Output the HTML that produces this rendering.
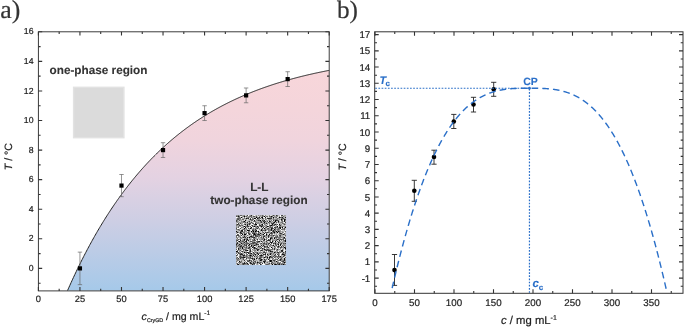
<!DOCTYPE html><html><head><meta charset="utf-8"><style>html,body{margin:0;padding:0;background:#fff}svg{display:block;will-change:transform}text{font-family:"Liberation Sans",Arial,sans-serif;text-rendering:geometricPrecision}</style></head><body>
<svg width="685" height="329" viewBox="0 0 685 329">
<defs>
<linearGradient id="g" gradientUnits="userSpaceOnUse" x1="0" y1="70" x2="0" y2="290">
<stop offset="0" stop-color="rgb(248,214,218)"/>
<stop offset="0.18" stop-color="rgb(244,213,219)"/>
<stop offset="0.32" stop-color="rgb(240,212,221)"/>
<stop offset="0.486" stop-color="rgb(228,210,226)"/>
<stop offset="0.695" stop-color="rgb(204,206,228)"/>
<stop offset="1" stop-color="rgb(166,201,233)"/>
</linearGradient>
<filter id="noise" x="-4%" y="-4%" width="108%" height="108%" color-interpolation-filters="sRGB">
<feTurbulence type="fractalNoise" baseFrequency="1.7" numOctaves="1" seed="7" result="t"/>
<feColorMatrix in="t" type="matrix" values="2.6 0 0 0 -0.76  2.6 0 0 0 -0.76  2.6 0 0 0 -0.76  0 0 0 0 1" result="c"/>
<feComposite in="c" in2="SourceGraphic" operator="in" result="cc"/>
<feGaussianBlur in="cc" stdDeviation="0.45"/>
</filter>
</defs>
<rect width="685" height="329" fill="#fff"/>
<path d="M67.53,290.58 L67.55,290.52 L68.28,288.87 L69.01,287.23 L69.74,285.60 L70.47,283.98 L71.20,282.38 L71.93,280.78 L72.65,279.20 L73.38,277.62 L74.11,276.06 L74.84,274.51 L75.57,272.97 L76.30,271.44 L77.03,269.92 L77.76,268.41 L78.49,266.91 L79.21,265.42 L79.94,263.94 L80.67,262.47 L81.40,261.01 L82.13,259.56 L82.86,258.12 L83.59,256.70 L84.32,255.28 L85.04,253.87 L85.77,252.47 L86.50,251.08 L87.23,249.70 L87.96,248.33 L88.69,246.97 L89.42,245.61 L90.15,244.27 L90.88,242.94 L91.60,241.61 L92.33,240.30 L93.06,238.99 L93.79,237.69 L94.52,236.40 L95.25,235.12 L95.98,233.85 L96.71,232.59 L97.43,231.34 L98.16,230.09 L98.89,228.86 L99.62,227.63 L100.35,226.41 L101.08,225.20 L101.81,224.00 L102.54,222.80 L103.27,221.62 L103.99,220.44 L104.72,219.27 L105.45,218.11 L106.18,216.95 L106.91,215.81 L107.64,214.67 L108.37,213.54 L109.10,212.41 L109.82,211.30 L110.55,210.19 L111.28,209.09 L112.01,208.00 L112.74,206.92 L113.47,205.84 L114.20,204.77 L114.93,203.71 L115.66,202.65 L116.38,201.60 L117.11,200.56 L117.84,199.53 L118.57,198.50 L119.30,197.49 L120.03,196.47 L120.76,195.47 L121.49,194.47 L122.21,193.48 L122.94,192.49 L123.67,191.51 L124.40,190.54 L125.13,189.58 L125.86,188.62 L126.59,187.67 L127.32,186.72 L128.05,185.79 L128.77,184.85 L129.50,183.93 L130.23,183.01 L130.96,182.10 L131.69,181.19 L132.42,180.29 L133.15,179.40 L133.88,178.51 L134.60,177.63 L135.33,176.75 L136.06,175.88 L136.79,175.02 L137.52,174.16 L138.25,173.31 L138.98,172.46 L139.71,171.62 L140.44,170.78 L141.16,169.96 L141.89,169.13 L142.62,168.32 L143.35,167.50 L144.08,166.70 L144.81,165.90 L145.54,165.10 L146.27,164.31 L146.99,163.53 L147.72,162.75 L148.45,161.97 L149.18,161.21 L149.91,160.44 L150.64,159.68 L151.37,158.93 L152.10,158.18 L152.83,157.44 L153.55,156.71 L154.28,155.97 L155.01,155.25 L155.74,154.52 L156.47,153.81 L157.20,153.09 L157.93,152.39 L158.66,151.68 L159.38,150.99 L160.11,150.29 L160.84,149.61 L161.57,148.92 L162.30,148.24 L163.03,147.57 L163.76,146.90 L164.49,146.24 L165.22,145.58 L165.94,144.92 L166.67,144.27 L167.40,143.62 L168.13,142.98 L168.86,142.34 L169.59,141.71 L170.32,141.08 L171.05,140.45 L171.77,139.83 L172.50,139.22 L173.23,138.61 L173.96,138.00 L174.69,137.39 L175.42,136.79 L176.15,136.20 L176.88,135.61 L177.61,135.02 L178.33,134.44 L179.06,133.86 L179.79,133.28 L180.52,132.71 L181.25,132.14 L181.98,131.58 L182.71,131.02 L183.44,130.47 L184.16,129.91 L184.89,129.37 L185.62,128.82 L186.35,128.28 L187.08,127.74 L187.81,127.21 L188.54,126.68 L189.27,126.15 L189.99,125.63 L190.72,125.11 L191.45,124.60 L192.18,124.09 L192.91,123.58 L193.64,123.07 L194.37,122.57 L195.10,122.08 L195.83,121.58 L196.55,121.09 L197.28,120.60 L198.01,120.12 L198.74,119.64 L199.47,119.16 L200.20,118.69 L200.93,118.21 L201.66,117.75 L202.38,117.28 L203.11,116.82 L203.84,116.36 L204.57,115.91 L205.30,115.46 L206.03,115.01 L206.76,114.56 L207.49,114.12 L208.22,113.68 L208.94,113.24 L209.67,112.81 L210.40,112.38 L211.13,111.95 L211.86,111.53 L212.59,111.10 L213.32,110.69 L214.05,110.27 L214.77,109.86 L215.50,109.45 L216.23,109.04 L216.96,108.63 L217.69,108.23 L218.42,107.83 L219.15,107.44 L219.88,107.04 L220.61,106.65 L221.33,106.26 L222.06,105.88 L222.79,105.49 L223.52,105.11 L224.25,104.74 L224.98,104.36 L225.71,103.99 L226.44,103.62 L227.16,103.25 L227.89,102.89 L228.62,102.52 L229.35,102.16 L230.08,101.81 L230.81,101.45 L231.54,101.10 L232.27,100.75 L233.00,100.40 L233.72,100.05 L234.45,99.71 L235.18,99.37 L235.91,99.03 L236.64,98.70 L237.37,98.36 L238.10,98.03 L238.83,97.70 L239.55,97.38 L240.28,97.05 L241.01,96.73 L241.74,96.41 L242.47,96.09 L243.20,95.77 L243.93,95.46 L244.66,95.15 L245.39,94.84 L246.11,94.53 L246.84,94.23 L247.57,93.92 L248.30,93.62 L249.03,93.33 L249.76,93.03 L250.49,92.73 L251.22,92.44 L251.94,92.15 L252.67,91.86 L253.40,91.57 L254.13,91.29 L254.86,91.01 L255.59,90.73 L256.32,90.45 L257.05,90.17 L257.78,89.90 L258.50,89.62 L259.23,89.35 L259.96,89.08 L260.69,88.81 L261.42,88.55 L262.15,88.28 L262.88,88.02 L263.61,87.76 L264.33,87.50 L265.06,87.25 L265.79,86.99 L266.52,86.74 L267.25,86.49 L267.98,86.24 L268.71,85.99 L269.44,85.74 L270.17,85.50 L270.89,85.25 L271.62,85.01 L272.35,84.77 L273.08,84.53 L273.81,84.30 L274.54,84.06 L275.27,83.83 L276.00,83.60 L276.72,83.37 L277.45,83.14 L278.18,82.91 L278.91,82.69 L279.64,82.46 L280.37,82.24 L281.10,82.02 L281.83,81.80 L282.56,81.58 L283.28,81.37 L284.01,81.15 L284.74,80.94 L285.47,80.73 L286.20,80.52 L286.93,80.31 L287.66,80.10 L288.39,79.90 L289.11,79.69 L289.84,79.49 L290.57,79.29 L291.30,79.09 L292.03,78.89 L292.76,78.69 L293.49,78.49 L294.22,78.30 L294.95,78.11 L295.67,77.91 L296.40,77.72 L297.13,77.53 L297.86,77.34 L298.59,77.16 L299.32,76.97 L300.05,76.79 L300.78,76.60 L301.50,76.42 L302.23,76.24 L302.96,76.06 L303.69,75.88 L304.42,75.71 L305.15,75.53 L305.88,75.36 L306.61,75.18 L307.34,75.01 L308.06,74.84 L308.79,74.67 L309.52,74.50 L310.25,74.33 L310.98,74.17 L311.71,74.00 L312.44,73.84 L313.17,73.68 L313.89,73.51 L314.62,73.35 L315.35,73.19 L316.08,73.03 L316.81,72.88 L317.54,72.72 L318.27,72.57 L319.00,72.41 L319.73,72.26 L320.45,72.11 L321.18,71.96 L321.91,71.81 L322.64,71.66 L323.37,71.51 L324.10,71.36 L324.83,71.22 L325.56,71.07 L326.28,70.93 L327.01,70.78 L327.74,70.64 L328.47,70.50 L329.20,70.36 L329.20,290.90 Z" fill="url(#g)"/>
<rect x="72.9" y="86.6" width="51.7" height="51.8" fill="rgb(226,226,226)"/>
<rect x="74.2" y="88" width="48.7" height="49" fill="rgb(219,219,219)"/>
<rect x="236" y="215" width="50" height="50" filter="url(#noise)"/>
<path d="M67.53,290.58 L67.55,290.52 L68.28,288.87 L69.01,287.23 L69.74,285.60 L70.47,283.98 L71.20,282.38 L71.93,280.78 L72.65,279.20 L73.38,277.62 L74.11,276.06 L74.84,274.51 L75.57,272.97 L76.30,271.44 L77.03,269.92 L77.76,268.41 L78.49,266.91 L79.21,265.42 L79.94,263.94 L80.67,262.47 L81.40,261.01 L82.13,259.56 L82.86,258.12 L83.59,256.70 L84.32,255.28 L85.04,253.87 L85.77,252.47 L86.50,251.08 L87.23,249.70 L87.96,248.33 L88.69,246.97 L89.42,245.61 L90.15,244.27 L90.88,242.94 L91.60,241.61 L92.33,240.30 L93.06,238.99 L93.79,237.69 L94.52,236.40 L95.25,235.12 L95.98,233.85 L96.71,232.59 L97.43,231.34 L98.16,230.09 L98.89,228.86 L99.62,227.63 L100.35,226.41 L101.08,225.20 L101.81,224.00 L102.54,222.80 L103.27,221.62 L103.99,220.44 L104.72,219.27 L105.45,218.11 L106.18,216.95 L106.91,215.81 L107.64,214.67 L108.37,213.54 L109.10,212.41 L109.82,211.30 L110.55,210.19 L111.28,209.09 L112.01,208.00 L112.74,206.92 L113.47,205.84 L114.20,204.77 L114.93,203.71 L115.66,202.65 L116.38,201.60 L117.11,200.56 L117.84,199.53 L118.57,198.50 L119.30,197.49 L120.03,196.47 L120.76,195.47 L121.49,194.47 L122.21,193.48 L122.94,192.49 L123.67,191.51 L124.40,190.54 L125.13,189.58 L125.86,188.62 L126.59,187.67 L127.32,186.72 L128.05,185.79 L128.77,184.85 L129.50,183.93 L130.23,183.01 L130.96,182.10 L131.69,181.19 L132.42,180.29 L133.15,179.40 L133.88,178.51 L134.60,177.63 L135.33,176.75 L136.06,175.88 L136.79,175.02 L137.52,174.16 L138.25,173.31 L138.98,172.46 L139.71,171.62 L140.44,170.78 L141.16,169.96 L141.89,169.13 L142.62,168.32 L143.35,167.50 L144.08,166.70 L144.81,165.90 L145.54,165.10 L146.27,164.31 L146.99,163.53 L147.72,162.75 L148.45,161.97 L149.18,161.21 L149.91,160.44 L150.64,159.68 L151.37,158.93 L152.10,158.18 L152.83,157.44 L153.55,156.71 L154.28,155.97 L155.01,155.25 L155.74,154.52 L156.47,153.81 L157.20,153.09 L157.93,152.39 L158.66,151.68 L159.38,150.99 L160.11,150.29 L160.84,149.61 L161.57,148.92 L162.30,148.24 L163.03,147.57 L163.76,146.90 L164.49,146.24 L165.22,145.58 L165.94,144.92 L166.67,144.27 L167.40,143.62 L168.13,142.98 L168.86,142.34 L169.59,141.71 L170.32,141.08 L171.05,140.45 L171.77,139.83 L172.50,139.22 L173.23,138.61 L173.96,138.00 L174.69,137.39 L175.42,136.79 L176.15,136.20 L176.88,135.61 L177.61,135.02 L178.33,134.44 L179.06,133.86 L179.79,133.28 L180.52,132.71 L181.25,132.14 L181.98,131.58 L182.71,131.02 L183.44,130.47 L184.16,129.91 L184.89,129.37 L185.62,128.82 L186.35,128.28 L187.08,127.74 L187.81,127.21 L188.54,126.68 L189.27,126.15 L189.99,125.63 L190.72,125.11 L191.45,124.60 L192.18,124.09 L192.91,123.58 L193.64,123.07 L194.37,122.57 L195.10,122.08 L195.83,121.58 L196.55,121.09 L197.28,120.60 L198.01,120.12 L198.74,119.64 L199.47,119.16 L200.20,118.69 L200.93,118.21 L201.66,117.75 L202.38,117.28 L203.11,116.82 L203.84,116.36 L204.57,115.91 L205.30,115.46 L206.03,115.01 L206.76,114.56 L207.49,114.12 L208.22,113.68 L208.94,113.24 L209.67,112.81 L210.40,112.38 L211.13,111.95 L211.86,111.53 L212.59,111.10 L213.32,110.69 L214.05,110.27 L214.77,109.86 L215.50,109.45 L216.23,109.04 L216.96,108.63 L217.69,108.23 L218.42,107.83 L219.15,107.44 L219.88,107.04 L220.61,106.65 L221.33,106.26 L222.06,105.88 L222.79,105.49 L223.52,105.11 L224.25,104.74 L224.98,104.36 L225.71,103.99 L226.44,103.62 L227.16,103.25 L227.89,102.89 L228.62,102.52 L229.35,102.16 L230.08,101.81 L230.81,101.45 L231.54,101.10 L232.27,100.75 L233.00,100.40 L233.72,100.05 L234.45,99.71 L235.18,99.37 L235.91,99.03 L236.64,98.70 L237.37,98.36 L238.10,98.03 L238.83,97.70 L239.55,97.38 L240.28,97.05 L241.01,96.73 L241.74,96.41 L242.47,96.09 L243.20,95.77 L243.93,95.46 L244.66,95.15 L245.39,94.84 L246.11,94.53 L246.84,94.23 L247.57,93.92 L248.30,93.62 L249.03,93.33 L249.76,93.03 L250.49,92.73 L251.22,92.44 L251.94,92.15 L252.67,91.86 L253.40,91.57 L254.13,91.29 L254.86,91.01 L255.59,90.73 L256.32,90.45 L257.05,90.17 L257.78,89.90 L258.50,89.62 L259.23,89.35 L259.96,89.08 L260.69,88.81 L261.42,88.55 L262.15,88.28 L262.88,88.02 L263.61,87.76 L264.33,87.50 L265.06,87.25 L265.79,86.99 L266.52,86.74 L267.25,86.49 L267.98,86.24 L268.71,85.99 L269.44,85.74 L270.17,85.50 L270.89,85.25 L271.62,85.01 L272.35,84.77 L273.08,84.53 L273.81,84.30 L274.54,84.06 L275.27,83.83 L276.00,83.60 L276.72,83.37 L277.45,83.14 L278.18,82.91 L278.91,82.69 L279.64,82.46 L280.37,82.24 L281.10,82.02 L281.83,81.80 L282.56,81.58 L283.28,81.37 L284.01,81.15 L284.74,80.94 L285.47,80.73 L286.20,80.52 L286.93,80.31 L287.66,80.10 L288.39,79.90 L289.11,79.69 L289.84,79.49 L290.57,79.29 L291.30,79.09 L292.03,78.89 L292.76,78.69 L293.49,78.49 L294.22,78.30 L294.95,78.11 L295.67,77.91 L296.40,77.72 L297.13,77.53 L297.86,77.34 L298.59,77.16 L299.32,76.97 L300.05,76.79 L300.78,76.60 L301.50,76.42 L302.23,76.24 L302.96,76.06 L303.69,75.88 L304.42,75.71 L305.15,75.53 L305.88,75.36 L306.61,75.18 L307.34,75.01 L308.06,74.84 L308.79,74.67 L309.52,74.50 L310.25,74.33 L310.98,74.17 L311.71,74.00 L312.44,73.84 L313.17,73.68 L313.89,73.51 L314.62,73.35 L315.35,73.19 L316.08,73.03 L316.81,72.88 L317.54,72.72 L318.27,72.57 L319.00,72.41 L319.73,72.26 L320.45,72.11 L321.18,71.96 L321.91,71.81 L322.64,71.66 L323.37,71.51 L324.10,71.36 L324.83,71.22 L325.56,71.07 L326.28,70.93 L327.01,70.78 L327.74,70.64 L328.47,70.50 L329.20,70.36" fill="none" stroke="#222" stroke-width="1"/>
<rect x="38.4" y="31.8" width="290.80" height="259.10" fill="none" stroke="#333" stroke-width="0.95"/>
<path d="M38.40,290.9 v-3.8 M38.40,31.8 v3.8 M59.17,290.9 v-2.2 M59.17,31.8 v2.2 M79.94,290.9 v-3.8 M79.94,31.8 v3.8 M100.71,290.9 v-2.2 M100.71,31.8 v2.2 M121.49,290.9 v-3.8 M121.49,31.8 v3.8 M142.26,290.9 v-2.2 M142.26,31.8 v2.2 M163.03,290.9 v-3.8 M163.03,31.8 v3.8 M183.80,290.9 v-2.2 M183.80,31.8 v2.2 M204.57,290.9 v-3.8 M204.57,31.8 v3.8 M225.34,290.9 v-2.2 M225.34,31.8 v2.2 M246.11,290.9 v-3.8 M246.11,31.8 v3.8 M266.89,290.9 v-2.2 M266.89,31.8 v2.2 M287.66,290.9 v-3.8 M287.66,31.8 v3.8 M308.43,290.9 v-2.2 M308.43,31.8 v2.2 M329.20,290.9 v-3.8 M329.20,31.8 v3.8 M38.4,283.19 h2.2 M329.2,283.19 h-2.2 M38.4,268.40 h3.8 M329.2,268.40 h-3.8 M38.4,253.61 h2.2 M329.2,253.61 h-2.2 M38.4,238.82 h3.8 M329.2,238.82 h-3.8 M38.4,224.04 h2.2 M329.2,224.04 h-2.2 M38.4,209.25 h3.8 M329.2,209.25 h-3.8 M38.4,194.46 h2.2 M329.2,194.46 h-2.2 M38.4,179.67 h3.8 M329.2,179.67 h-3.8 M38.4,164.89 h2.2 M329.2,164.89 h-2.2 M38.4,150.10 h3.8 M329.2,150.10 h-3.8 M38.4,135.31 h2.2 M329.2,135.31 h-2.2 M38.4,120.53 h3.8 M329.2,120.53 h-3.8 M38.4,105.74 h2.2 M329.2,105.74 h-2.2 M38.4,90.95 h3.8 M329.2,90.95 h-3.8 M38.4,76.16 h2.2 M329.2,76.16 h-2.2 M38.4,61.38 h3.8 M329.2,61.38 h-3.8 M38.4,46.59 h2.2 M329.2,46.59 h-2.2 M38.4,31.80 h3.8 M329.2,31.80 h-3.8" stroke="#333" stroke-width="1.1" fill="none"/>
<text stroke="#222" stroke-width="0.2" fill="#222" x="38.40" y="302.4" font-size="9.3" text-anchor="middle">0</text>
<text stroke="#222" stroke-width="0.2" fill="#222" x="79.94" y="302.4" font-size="9.3" text-anchor="middle">25</text>
<text stroke="#222" stroke-width="0.2" fill="#222" x="121.49" y="302.4" font-size="9.3" text-anchor="middle">50</text>
<text stroke="#222" stroke-width="0.2" fill="#222" x="163.03" y="302.4" font-size="9.3" text-anchor="middle">75</text>
<text stroke="#222" stroke-width="0.2" fill="#222" x="204.57" y="302.4" font-size="9.3" text-anchor="middle">100</text>
<text stroke="#222" stroke-width="0.2" fill="#222" x="246.11" y="302.4" font-size="9.3" text-anchor="middle">125</text>
<text stroke="#222" stroke-width="0.2" fill="#222" x="287.66" y="302.4" font-size="9.3" text-anchor="middle">150</text>
<text stroke="#222" stroke-width="0.2" fill="#222" x="329.20" y="302.4" font-size="9.3" text-anchor="middle">175</text>
<text stroke="#222" stroke-width="0.2" fill="#222" x="33.5" y="271.00" font-size="8.7" text-anchor="end">0</text>
<text stroke="#222" stroke-width="0.2" fill="#222" x="33.5" y="241.42" font-size="8.7" text-anchor="end">2</text>
<text stroke="#222" stroke-width="0.2" fill="#222" x="33.5" y="211.85" font-size="8.7" text-anchor="end">4</text>
<text stroke="#222" stroke-width="0.2" fill="#222" x="33.5" y="182.27" font-size="8.7" text-anchor="end">6</text>
<text stroke="#222" stroke-width="0.2" fill="#222" x="33.5" y="152.70" font-size="8.7" text-anchor="end">8</text>
<text stroke="#222" stroke-width="0.2" fill="#222" x="33.5" y="123.12" font-size="8.7" text-anchor="end">10</text>
<text stroke="#222" stroke-width="0.2" fill="#222" x="33.5" y="93.55" font-size="8.7" text-anchor="end">12</text>
<text stroke="#222" stroke-width="0.2" fill="#222" x="33.5" y="63.98" font-size="8.7" text-anchor="end">14</text>
<text stroke="#222" stroke-width="0.2" fill="#222" x="33.5" y="34.40" font-size="8.7" text-anchor="end">16</text>
<text stroke="#222" stroke-width="0.2" fill="#222" transform="translate(11.9,156.7) rotate(-90)" font-size="10.6" text-anchor="middle"><tspan font-style="italic">T</tspan> / °C</text>
<text stroke="#222" stroke-width="0.2" fill="#222" x="141.6" y="319.6" font-size="10.6"><tspan font-style="italic">c</tspan><tspan font-size="5.3" dy="2.2">CryGD</tspan><tspan dy="-2.2"> / mg mL</tspan><tspan font-size="6.5" dy="-4.2">-1</tspan></text>
<text stroke="#333" stroke-width="0.1" x="98.5" y="73.5" font-size="11.75" font-weight="bold" text-anchor="middle" fill="#333">one-phase region</text>
<text stroke="#333" stroke-width="0.1" x="259.3" y="190.7" font-size="11.75" font-weight="bold" text-anchor="middle" fill="#333">L-L</text>
<text stroke="#333" stroke-width="0.1" x="259" y="203.7" font-size="11.75" font-weight="bold" text-anchor="middle" fill="#333">two-phase region</text>
<path d="M79.94,252.13 V284.67 M77.74,252.13 h4.4 M77.74,284.67 h4.4 M121.49,174.50 V196.68 M119.29,174.50 h4.4 M119.29,196.68 h4.4 M163.03,142.71 V157.49 M160.83,142.71 h4.4 M160.83,157.49 h4.4 M204.57,105.74 V120.53 M202.37,105.74 h4.4 M202.37,120.53 h4.4 M246.11,87.99 V102.78 M243.91,87.99 h4.4 M243.91,102.78 h4.4 M287.66,71.73 V86.51 M285.46,71.73 h4.4 M285.46,86.51 h4.4" stroke="#666" stroke-width="0.7" fill="none"/>
<rect x="77.84" y="266.30" width="4.2" height="4.2" fill="#000"/>
<rect x="119.39" y="183.49" width="4.2" height="4.2" fill="#000"/>
<rect x="160.93" y="148.00" width="4.2" height="4.2" fill="#000"/>
<rect x="202.47" y="111.03" width="4.2" height="4.2" fill="#000"/>
<rect x="244.01" y="93.29" width="4.2" height="4.2" fill="#000"/>
<rect x="285.56" y="77.02" width="4.2" height="4.2" fill="#000"/>
<text stroke="#333" stroke-width="0.2" x="0.3" y="18.3" font-size="25.8" style="font-family:'Liberation Serif','Times New Roman',serif" fill="#333">a)</text>
<text stroke="#333" stroke-width="0.2" x="336.9" y="18.3" font-size="25.2" style="font-family:'Liberation Serif','Times New Roman',serif" fill="#333">b)</text>
<path d="M394.5,254.5 V285.4 M391.90,254.5 h5.2 M391.90,285.4 h5.2 M414.3,180.3 V201.3 M411.70,180.3 h5.2 M411.70,201.3 h5.2 M434.0,150.2 V164.2 M431.40,150.2 h5.2 M431.40,164.2 h5.2 M453.8,114.4 V128.5 M451.20,114.4 h5.2 M451.20,128.5 h5.2 M473.5,97.3 V112.0 M470.90,97.3 h5.2 M470.90,112.0 h5.2 M493.7,82.3 V96.3 M491.10,82.3 h5.2 M491.10,96.3 h5.2" stroke="#222" stroke-width="0.9" fill="none"/>
<circle cx="394.5" cy="270.1" r="2.3" fill="#000"/>
<circle cx="414.3" cy="190.7" r="2.3" fill="#000"/>
<circle cx="434.0" cy="157.0" r="2.3" fill="#000"/>
<circle cx="453.8" cy="121.5" r="2.3" fill="#000"/>
<circle cx="473.5" cy="104.5" r="2.3" fill="#000"/>
<circle cx="493.7" cy="89.3" r="2.3" fill="#000"/>
<path d="M391.40,291.37 L391.90,289.17 L392.40,286.99 L392.90,284.82 L393.40,282.67 L393.90,280.53 L394.40,278.41 L394.90,276.31 L395.40,274.22 L395.90,272.15 L396.40,270.09 L396.90,268.05 L397.40,266.02 L397.90,264.01 L398.40,262.01 L398.90,260.03 L399.40,258.06 L399.90,256.11 L400.40,254.18 L400.90,252.25 L401.40,250.35 L401.90,248.46 L402.40,246.58 L402.90,244.72 L403.40,242.87 L403.90,241.04 L404.40,239.22 L404.90,237.42 L405.40,235.63 L405.90,233.85 L406.40,232.09 L406.90,230.35 L407.40,228.61 L407.90,226.89 L408.40,225.19 L408.90,223.50 L409.40,221.83 L409.90,220.16 L410.40,218.51 L410.90,216.88 L411.40,215.26 L411.90,213.65 L412.40,212.06 L412.90,210.48 L413.40,208.91 L413.90,207.36 L414.40,205.82 L414.90,204.29 L415.40,202.78 L415.90,201.28 L416.40,199.80 L416.90,198.32 L417.40,196.86 L417.90,195.41 L418.40,193.98 L418.90,192.56 L419.40,191.15 L419.90,189.75 L420.40,188.37 L420.90,187.00 L421.40,185.64 L421.90,184.29 L422.40,182.96 L422.90,181.64 L423.40,180.33 L423.90,179.03 L424.40,177.75 L424.90,176.48 L425.40,175.22 L425.90,173.97 L426.40,172.74 L426.90,171.51 L427.40,170.30 L427.90,169.10 L428.40,167.91 L428.90,166.73 L429.40,165.57 L429.90,164.42 L430.40,163.27 L430.90,162.14 L431.40,161.02 L431.90,159.92 L432.40,158.82 L432.90,157.74 L433.40,156.66 L433.90,155.60 L434.40,154.55 L434.90,153.51 L435.40,152.48 L435.90,151.46 L436.40,150.45 L436.90,149.45 L437.40,148.47 L437.90,147.49 L438.40,146.52 L438.90,145.57 L439.40,144.63 L439.90,143.69 L440.40,142.77 L440.90,141.85 L441.40,140.95 L441.90,140.06 L442.40,139.18 L442.90,138.30 L443.40,137.44 L443.90,136.59 L444.40,135.75 L444.90,134.91 L445.40,134.09 L445.90,133.28 L446.40,132.47 L446.90,131.68 L447.40,130.90 L447.90,130.12 L448.40,129.36 L448.90,128.60 L449.40,127.85 L449.90,127.12 L450.40,126.39 L450.90,125.67 L451.40,124.96 L451.90,124.26 L452.40,123.56 L452.90,122.88 L453.40,122.21 L453.90,121.54 L454.40,120.89 L454.90,120.24 L455.40,119.60 L455.90,118.97 L456.40,118.35 L456.90,117.73 L457.40,117.13 L457.90,116.53 L458.40,115.94 L458.90,115.36 L459.40,114.79 L459.90,114.22 L460.40,113.67 L460.90,113.12 L461.40,112.58 L461.90,112.05 L462.40,111.52 L462.90,111.01 L463.40,110.50 L463.90,109.99 L464.40,109.50 L464.90,109.01 L465.40,108.54 L465.90,108.06 L466.40,107.60 L466.90,107.14 L467.40,106.69 L467.90,106.25 L468.40,105.82 L468.90,105.39 L469.40,104.97 L469.90,104.55 L470.40,104.15 L470.90,103.75 L471.40,103.35 L471.90,102.97 L472.40,102.59 L472.90,102.21 L473.40,101.84 L473.90,101.48 L474.40,101.13 L474.90,100.78 L475.40,100.44 L475.90,100.11 L476.40,99.78 L476.90,99.45 L477.40,99.14 L477.90,98.83 L478.40,98.52 L478.90,98.22 L479.40,97.93 L479.90,97.64 L480.40,97.36 L480.90,97.09 L481.40,96.81 L481.90,96.55 L482.40,96.29 L482.90,96.04 L483.40,95.79 L483.90,95.55 L484.40,95.31 L484.90,95.08 L485.40,94.85 L485.90,94.63 L486.40,94.41 L486.90,94.20 L487.40,93.99 L487.90,93.79 L488.40,93.59 L488.90,93.40 L489.40,93.21 L489.90,93.03 L490.40,92.85 L490.90,92.67 L491.40,92.50 L491.90,92.34 L492.40,92.18 L492.90,92.02 L493.40,91.87 L493.90,91.72 L494.40,91.57 L494.90,91.43 L495.40,91.30 L495.90,91.17 L496.40,91.04 L496.90,90.91 L497.40,90.79 L497.90,90.67 L498.40,90.56 L498.90,90.45 L499.40,90.34 L499.90,90.24 L500.40,90.14 L500.90,90.05 L501.40,89.95 L501.90,89.86 L502.40,89.78 L502.90,89.69 L503.40,89.61 L503.90,89.54 L504.40,89.46 L504.90,89.39 L505.40,89.32 L505.90,89.26 L506.40,89.20 L506.90,89.14 L507.40,89.08 L507.90,89.02 L508.40,88.97 L508.90,88.92 L509.40,88.87 L509.90,88.83 L510.40,88.78 L510.90,88.74 L511.40,88.70 L511.90,88.67 L512.40,88.63 L512.90,88.60 L513.40,88.57 L513.90,88.54 L514.40,88.51 L514.90,88.49 L515.40,88.46 L515.90,88.44 L516.40,88.42 L516.90,88.40 L517.40,88.39 L517.90,88.37 L518.40,88.35 L518.90,88.34 L519.40,88.33 L519.90,88.32 L520.40,88.31 L520.90,88.30 L521.40,88.29 L521.90,88.28 L522.40,88.28 L522.90,88.27 L523.40,88.27 L523.90,88.26 L524.40,88.26 L524.90,88.26 L525.40,88.26 L525.90,88.25 L526.40,88.25 L526.90,88.25 L527.40,88.25 L527.90,88.25 L528.40,88.25 L528.90,88.25 L529.40,88.25 L529.90,88.25 L530.40,88.25 L530.90,88.25 L531.40,88.25 L531.90,88.25 L532.40,88.25 L532.90,88.25 L533.40,88.25 L533.90,88.26 L534.40,88.26 L534.90,88.26 L535.40,88.27 L535.90,88.27 L536.40,88.28 L536.90,88.28 L537.40,88.29 L537.90,88.30 L538.40,88.31 L538.90,88.32 L539.40,88.33 L539.90,88.34 L540.40,88.35 L540.90,88.37 L541.40,88.38 L541.90,88.40 L542.40,88.42 L542.90,88.44 L543.40,88.46 L543.90,88.49 L544.40,88.51 L544.90,88.54 L545.40,88.57 L545.90,88.60 L546.40,88.63 L546.90,88.67 L547.40,88.70 L547.90,88.74 L548.40,88.78 L548.90,88.83 L549.40,88.87 L549.90,88.92 L550.40,88.97 L550.90,89.03 L551.40,89.08 L551.90,89.14 L552.40,89.20 L552.90,89.26 L553.40,89.33 L553.90,89.40 L554.40,89.47 L554.90,89.54 L555.40,89.62 L555.90,89.70 L556.40,89.79 L556.90,89.87 L557.40,89.96 L557.90,90.06 L558.40,90.16 L558.90,90.26 L559.40,90.36 L559.90,90.47 L560.40,90.58 L560.90,90.69 L561.40,90.81 L561.90,90.93 L562.40,91.06 L562.90,91.19 L563.40,91.32 L563.90,91.46 L564.40,91.60 L564.90,91.75 L565.40,91.90 L565.90,92.05 L566.40,92.21 L566.90,92.37 L567.40,92.54 L567.90,92.71 L568.40,92.89 L568.90,93.07 L569.40,93.26 L569.90,93.45 L570.40,93.64 L570.90,93.84 L571.40,94.05 L571.90,94.26 L572.40,94.47 L572.90,94.69 L573.40,94.92 L573.90,95.15 L574.40,95.38 L574.90,95.62 L575.40,95.87 L575.90,96.12 L576.40,96.38 L576.90,96.64 L577.40,96.91 L577.90,97.18 L578.40,97.46 L578.90,97.75 L579.40,98.04 L579.90,98.33 L580.40,98.64 L580.90,98.95 L581.40,99.26 L581.90,99.58 L582.40,99.91 L582.90,100.24 L583.40,100.58 L583.90,100.93 L584.40,101.28 L584.90,101.64 L585.40,102.00 L585.90,102.38 L586.40,102.76 L586.90,103.14 L587.40,103.53 L587.90,103.93 L588.40,104.34 L588.90,104.75 L589.40,105.17 L589.90,105.60 L590.40,106.03 L590.90,106.47 L591.40,106.92 L591.90,107.38 L592.40,107.84 L592.90,108.31 L593.40,108.79 L593.90,109.27 L594.40,109.77 L594.90,110.27 L595.40,110.78 L595.90,111.29 L596.40,111.82 L596.90,112.35 L597.40,112.89 L597.90,113.44 L598.40,113.99 L598.90,114.56 L599.40,115.13 L599.90,115.71 L600.40,116.30 L600.90,116.90 L601.40,117.50 L601.90,118.12 L602.40,118.74 L602.90,119.37 L603.40,120.01 L603.90,120.66 L604.40,121.32 L604.90,121.98 L605.40,122.66 L605.90,123.34 L606.40,124.03 L606.90,124.74 L607.40,125.45 L607.90,126.17 L608.40,126.90 L608.90,127.64 L609.40,128.38 L609.90,129.14 L610.40,129.91 L610.90,130.69 L611.40,131.47 L611.90,132.27 L612.40,133.07 L612.90,133.89 L613.40,134.71 L613.90,135.55 L614.40,136.39 L614.90,137.25 L615.40,138.11 L615.90,138.99 L616.40,139.88 L616.90,140.77 L617.40,141.68 L617.90,142.59 L618.40,143.52 L618.90,144.46 L619.40,145.41 L619.90,146.36 L620.40,147.33 L620.90,148.31 L621.40,149.30 L621.90,150.31 L622.40,151.32 L622.90,152.34 L623.40,153.38 L623.90,154.42 L624.40,155.48 L624.90,156.54 L625.40,157.62 L625.90,158.71 L626.40,159.82 L626.90,160.93 L627.40,162.05 L627.90,163.19 L628.40,164.34 L628.90,165.50 L629.40,166.67 L629.90,167.85 L630.40,169.04 L630.90,170.25 L631.40,171.47 L631.90,172.70 L632.40,173.94 L632.90,175.20 L633.40,176.46 L633.90,177.74 L634.40,179.03 L634.90,180.34 L635.40,181.65 L635.90,182.98 L636.40,184.32 L636.90,185.68 L637.40,187.04 L637.90,188.42 L638.40,189.81 L638.90,191.22 L639.40,192.64 L639.90,194.07 L640.40,195.51 L640.90,196.97 L641.40,198.44 L641.90,199.92 L642.40,201.42 L642.90,202.93 L643.40,204.45 L643.90,205.98 L644.40,207.53 L644.90,209.10 L645.40,210.68 L645.90,212.27 L646.40,213.87 L646.90,215.49 L647.40,217.12 L647.90,218.77 L648.40,220.43 L648.90,222.10 L649.40,223.79 L649.90,225.49 L650.40,227.21 L650.90,228.94 L651.40,230.68 L651.90,232.44 L652.40,234.21 L652.90,236.00 L653.40,237.80 L653.90,239.62 L654.40,241.45 L654.90,243.30 L655.40,245.16 L655.90,247.04 L656.40,248.93 L656.90,250.83 L657.40,252.75 L657.90,254.69 L658.40,256.64 L658.90,258.61 L659.40,260.59 L659.90,262.59 L660.40,264.60 L660.90,266.63 L661.40,268.67 L661.90,270.73 L662.40,272.80 L662.90,274.89 L663.40,277.00 L663.90,279.12 L664.40,281.26 L664.90,283.41 L665.40,285.58 L665.90,287.77 L666.40,289.97 L666.90,292.19" fill="none" stroke="#2a6fc8" stroke-width="1.4" stroke-dasharray="6.6 4.1" stroke-dashoffset="7.3"/>
<path d="M374.7,88.25 H529.45 V293.3" fill="none" stroke="#2a6fc8" stroke-width="1.2" stroke-dasharray="1.7 1.46" stroke-dashoffset="2.6"/>
<circle cx="529.45" cy="88.25" r="1.4" fill="#2a6fc8"/>
<rect x="374.7" y="31.8" width="308.30" height="261.50" fill="none" stroke="#333" stroke-width="1.0"/>
<path d="M375.00,293.3 v-4.0 M375.00,31.8 v4.0 M394.75,293.3 v-2.3 M394.75,31.8 v2.3 M414.50,293.3 v-4.0 M414.50,31.8 v4.0 M434.25,293.3 v-2.3 M434.25,31.8 v2.3 M454.00,293.3 v-4.0 M454.00,31.8 v4.0 M473.75,293.3 v-2.3 M473.75,31.8 v2.3 M493.50,293.3 v-4.0 M493.50,31.8 v4.0 M513.25,293.3 v-2.3 M513.25,31.8 v2.3 M533.00,293.3 v-4.0 M533.00,31.8 v4.0 M552.75,293.3 v-2.3 M552.75,31.8 v2.3 M572.50,293.3 v-4.0 M572.50,31.8 v4.0 M592.25,293.3 v-2.3 M592.25,31.8 v2.3 M612.00,293.3 v-4.0 M612.00,31.8 v4.0 M631.75,293.3 v-2.3 M631.75,31.8 v2.3 M651.50,293.3 v-4.0 M651.50,31.8 v4.0 M671.25,293.3 v-2.3 M671.25,31.8 v2.3 M374.7,34.60 h4 M683.0,34.60 h-4 M374.7,42.72 h2.3 M683.0,42.72 h-2.3 M374.7,50.83 h4 M683.0,50.83 h-4 M374.7,58.95 h2.3 M683.0,58.95 h-2.3 M374.7,67.07 h4 M683.0,67.07 h-4 M374.7,75.19 h2.3 M683.0,75.19 h-2.3 M374.7,83.30 h4 M683.0,83.30 h-4 M374.7,91.42 h2.3 M683.0,91.42 h-2.3 M374.7,99.53 h4 M683.0,99.53 h-4 M374.7,107.65 h2.3 M683.0,107.65 h-2.3 M374.7,115.77 h4 M683.0,115.77 h-4 M374.7,123.89 h2.3 M683.0,123.89 h-2.3 M374.7,132.00 h4 M683.0,132.00 h-4 M374.7,140.12 h2.3 M683.0,140.12 h-2.3 M374.7,148.23 h4 M683.0,148.23 h-4 M374.7,156.35 h2.3 M683.0,156.35 h-2.3 M374.7,164.46 h4 M683.0,164.46 h-4 M374.7,172.58 h2.3 M683.0,172.58 h-2.3 M374.7,180.70 h4 M683.0,180.70 h-4 M374.7,188.82 h2.3 M683.0,188.82 h-2.3 M374.7,196.93 h4 M683.0,196.93 h-4 M374.7,205.05 h2.3 M683.0,205.05 h-2.3 M374.7,213.16 h4 M683.0,213.16 h-4 M374.7,221.28 h2.3 M683.0,221.28 h-2.3 M374.7,229.40 h4 M683.0,229.40 h-4 M374.7,237.52 h2.3 M683.0,237.52 h-2.3 M374.7,245.63 h4 M683.0,245.63 h-4 M374.7,253.75 h2.3 M683.0,253.75 h-2.3 M374.7,261.86 h4 M683.0,261.86 h-4 M374.7,269.98 h2.3 M683.0,269.98 h-2.3 M374.7,278.10 h4 M683.0,278.10 h-4 M374.7,286.22 h2.3 M683.0,286.22 h-2.3" stroke="#333" stroke-width="1.1" fill="none"/>
<text stroke="#222" stroke-width="0.2" fill="#222" x="370.3" y="38.20" font-size="9.75" text-anchor="end">17</text>
<text stroke="#222" stroke-width="0.2" fill="#222" x="370.3" y="54.43" font-size="9.75" text-anchor="end">15</text>
<text stroke="#222" stroke-width="0.2" fill="#222" x="370.3" y="70.67" font-size="9.75" text-anchor="end">14</text>
<text stroke="#222" stroke-width="0.2" fill="#222" x="370.3" y="86.90" font-size="9.75" text-anchor="end">13</text>
<text stroke="#222" stroke-width="0.2" fill="#222" x="370.3" y="103.13" font-size="9.75" text-anchor="end">12</text>
<text stroke="#222" stroke-width="0.2" fill="#222" x="370.3" y="119.37" font-size="9.75" text-anchor="end">11</text>
<text stroke="#222" stroke-width="0.2" fill="#222" x="370.3" y="135.60" font-size="9.75" text-anchor="end">10</text>
<text stroke="#222" stroke-width="0.2" fill="#222" x="370.3" y="151.83" font-size="9.75" text-anchor="end">9</text>
<text stroke="#222" stroke-width="0.2" fill="#222" x="370.3" y="168.06" font-size="9.75" text-anchor="end">7</text>
<text stroke="#222" stroke-width="0.2" fill="#222" x="370.3" y="184.30" font-size="9.75" text-anchor="end">6</text>
<text stroke="#222" stroke-width="0.2" fill="#222" x="370.3" y="200.53" font-size="9.75" text-anchor="end">5</text>
<text stroke="#222" stroke-width="0.2" fill="#222" x="370.3" y="216.76" font-size="9.75" text-anchor="end">4</text>
<text stroke="#222" stroke-width="0.2" fill="#222" x="370.3" y="233.00" font-size="9.75" text-anchor="end">3</text>
<text stroke="#222" stroke-width="0.2" fill="#222" x="370.3" y="249.23" font-size="9.75" text-anchor="end">2</text>
<text stroke="#222" stroke-width="0.2" fill="#222" x="370.3" y="265.46" font-size="9.75" text-anchor="end">1</text>
<text stroke="#222" stroke-width="0.2" fill="#222" x="370.3" y="281.70" font-size="9.75" text-anchor="end">-1</text>
<text stroke="#222" stroke-width="0.2" fill="#222" x="375.00" y="306" font-size="9.75" text-anchor="middle">0</text>
<text stroke="#222" stroke-width="0.2" fill="#222" x="414.50" y="306" font-size="9.75" text-anchor="middle">50</text>
<text stroke="#222" stroke-width="0.2" fill="#222" x="454.00" y="306" font-size="9.75" text-anchor="middle">100</text>
<text stroke="#222" stroke-width="0.2" fill="#222" x="493.50" y="306" font-size="9.75" text-anchor="middle">150</text>
<text stroke="#222" stroke-width="0.2" fill="#222" x="533.00" y="306" font-size="9.75" text-anchor="middle">200</text>
<text stroke="#222" stroke-width="0.2" fill="#222" x="572.50" y="306" font-size="9.75" text-anchor="middle">250</text>
<text stroke="#222" stroke-width="0.2" fill="#222" x="612.00" y="306" font-size="9.75" text-anchor="middle">300</text>
<text stroke="#222" stroke-width="0.2" fill="#222" x="651.50" y="306" font-size="9.75" text-anchor="middle">350</text>
<text stroke="#222" stroke-width="0.2" fill="#222" transform="translate(345.7,157) rotate(-90)" font-size="10.6" text-anchor="middle"><tspan font-style="italic">T</tspan> / °C</text>
<text stroke="#222" stroke-width="0.2" fill="#222" x="501" y="324.4" font-size="11.3"><tspan font-style="italic">c</tspan> / mg mL<tspan font-size="7" dy="-4.4">-1</tspan></text>
<text stroke="#2a6fc8" stroke-width="0.1" x="523.2" y="84.7" font-size="10.5" font-weight="bold" fill="#2a6fc8">CP</text>
<text stroke="#2a6fc8" stroke-width="0.1" x="379.6" y="83.7" font-size="10.8" font-weight="bold" font-style="italic" fill="#2a6fc8">T<tspan font-size="8" font-style="normal" dy="2.4" dx="-0.8">c</tspan></text>
<text stroke="#2a6fc8" stroke-width="0.1" x="532.4" y="286.6" font-size="11.5" font-weight="bold" font-style="italic" fill="#2a6fc8">c<tspan font-size="8" font-style="normal" dy="3">c</tspan></text>
</svg></body></html>
